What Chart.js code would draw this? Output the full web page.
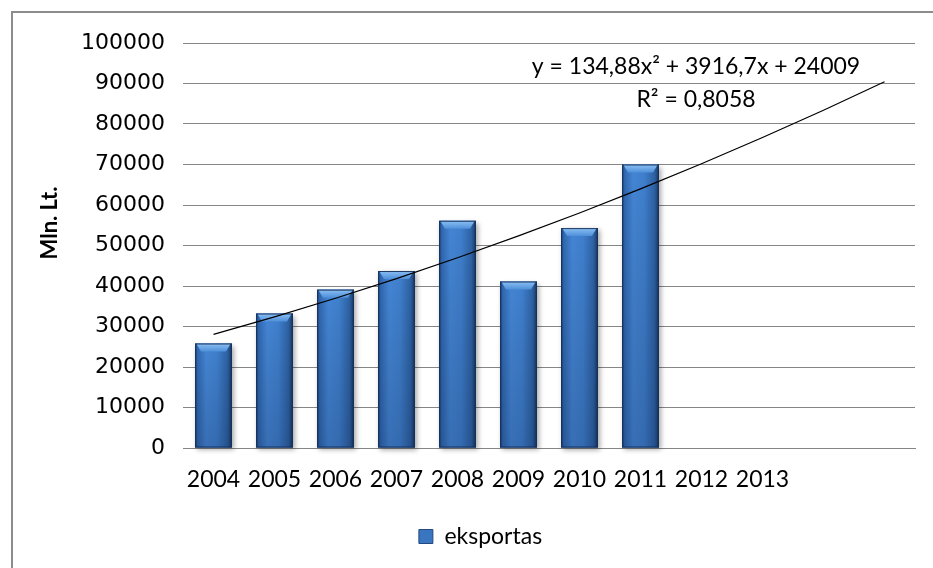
<!DOCTYPE html>
<html>
<head>
<meta charset="utf-8">
<script src="https://cdn.jsdelivr.net/npm/chart.js@4.4.0/dist/chart.umd.min.js"></script>
<style>
  html, body { margin: 0; padding: 0; background: #fff; overflow: hidden; }
  #wrap { position: relative; width: 933px; height: 568px; }
  #frame { position: absolute; left: 11px; top: 11px; right: -6px; bottom: -6px; border: 2px solid #8c8c8c; pointer-events: none; }
</style>
</head>
<body>
<div id="wrap">
  <canvas id="exportChart" width="933" height="568"></canvas>
  <div id="frame"></div>
</div>
<script>
// --- duomenys ---
const metai = ["2004", "2005", "2006", "2007", "2008", "2009", "2010", "2011", "2012", "2013", "", ""];
const eksportas = [25800, 33200, 39100, 43700, 56100, 41100, 54300, 70000, null, null, null, null];
const trendas = [28061, 32382, 36973, 41834, 46965, 52365, 58035, 63975, 70185, 76664, 83413, 90432];
const trendLygtis = "y = 134,88x² + 3916,7x + 24009";
const trendR2 = "R² = 0,8058";
const asiesPavadinimas = "Mln. Lt.";
const yMax = 100000;
const yZingsnis = 10000;

// --- 3D stulpeliu efektas ---
function barOk(chart, i) {
  return chart.data.datasets[0].data[i] != null;
}

const bevel = {
  id: "bevel",
  beforeDatasetDraw(chart, args) {
    if (args.index !== 0) return;
    const c = chart.ctx;
    c.save();
    args.meta.data.forEach((bar, i) => {
      if (!barOk(chart, i)) return;
      const p = bar.getProps(["x", "y", "base", "width"], true);
      c.shadowColor = "rgba(0,0,0,0.35)";
      c.shadowBlur = 5;
      c.shadowOffsetX = 2;
      c.shadowOffsetY = 2;
      c.fillStyle = "#2b5b97";
      c.fillRect(p.x - p.width / 2, p.y, p.width, p.base - p.y);
    });
    c.restore();
  },
  afterDatasetDraw(chart, args) {
    if (args.index !== 0) return;
    const c = chart.ctx;
    c.save();
    args.meta.data.forEach((bar, i) => {
      if (!barOk(chart, i)) return;
      const p = bar.getProps(["x", "y", "base", "width"], true);
      const l = p.x - p.width / 2, r = p.x + p.width / 2, t = p.y, b = p.base;

      const g = c.createLinearGradient(l, 0, r, 0);
      g.addColorStop(0, "#1f4a84");
      g.addColorStop(0.07, "#3068b0");
      g.addColorStop(0.3, "#4485d4");
      g.addColorStop(0.6, "#3f7fcd");
      g.addColorStop(0.88, "#2e62a4");
      g.addColorStop(1, "#1a3a66");
      c.fillStyle = g;
      c.fillRect(l, t, r - l, b - t);

      const v = c.createLinearGradient(0, t, 0, b);
      v.addColorStop(0, "rgba(0,0,0,0)");
      v.addColorStop(1, "rgba(0,10,40,0.18)");
      c.fillStyle = v;
      c.fillRect(l, t, r - l, b - t);

      // virsutinis apvadas
      const h = 8, d = (r - l) * 0.16;
      const cg = c.createLinearGradient(0, t, 0, t + h);
      cg.addColorStop(0, "#8cc0f4");
      cg.addColorStop(1, "#4e8fd9");
      c.fillStyle = cg;
      c.beginPath();
      c.moveTo(l + 1, t);
      c.lineTo(r - 1, t);
      c.lineTo(r - d, t + h);
      c.lineTo(l + d, t + h);
      c.closePath();
      c.fill();

      c.strokeStyle = "rgba(20,45,85,0.9)";
      c.lineWidth = 1;
      c.strokeRect(l + 0.5, t + 0.5, r - l - 1, b - t - 1);
    });
    c.restore();
  },
  afterDraw(chart) {
    const c = chart.ctx;
    c.save();
    c.fillStyle = "#000";
    c.textAlign = "center";
    c.textBaseline = "middle";
    c.font = "23px Lato";
    c.fillText(trendLygtis, 696, 67);
    c.fillText(trendR2, 696, 100);
    // Y asies pavadinimas
    c.translate(50, 223);
    c.rotate(-Math.PI / 2);
    c.font = "bold 22px Lato";
    c.fillText(asiesPavadinimas, 0, 0);
    c.restore();
  }
};

const ctx = document.getElementById("exportChart").getContext("2d");

const exportChart = new Chart(ctx, {
  type: "bar",
  data: {
    labels: metai,
    datasets: [{
      label: "eksportas",
      data: eksportas,
      backgroundColor: "#3a75c0",
      borderColor: "#23497e",
      borderWidth: 1,
      barPercentage: 0.6,
      categoryPercentage: 1,
      order: 1
    }, {
      type: "line",
      label: "trend",
      data: trendas,
      borderColor: "#000",
      borderWidth: 1.2,
      pointRadius: 0,
      tension: 0,
      order: 0
    }]
  },
  options: {
    responsive: false,
    animation: false,
    layout: { padding: { left: 46, right: 18, top: 43, bottom: 10 } },
    scales: {
      x: {
        grid: { display: false, drawTicks: false },
        border: { color: "#868686", width: 1 },
        ticks: { color: "#000", padding: 18, maxRotation: 0, autoSkip: false, font: { family: "Lato", size: 23 } },
        afterFit: s => { s.height = 67; }
      },
      y: {
        min: 0,
        max: yMax,
        grid: { color: "#868686", lineWidth: 1, drawTicks: false },
        border: { display: false },
        ticks: {
          stepSize: yZingsnis,
          color: "#000",
          padding: 18,
          font: { family: "DejaVu Sans", size: 22 },
          callback: v => String(v)
        },
        afterFit: s => { s.width = 137; }
      }
    },
    plugins: {
      legend: {
        position: "bottom",
        labels: {
          color: "#000",
          boxWidth: 14,
          boxHeight: 14,
          padding: 10,
          font: { family: "Lato", size: 23 },
          filter: item => item.datasetIndex === 0
        }
      },
      tooltip: { enabled: false }
    }
  },
  plugins: [bevel]
});
</script>
</body>
</html>
